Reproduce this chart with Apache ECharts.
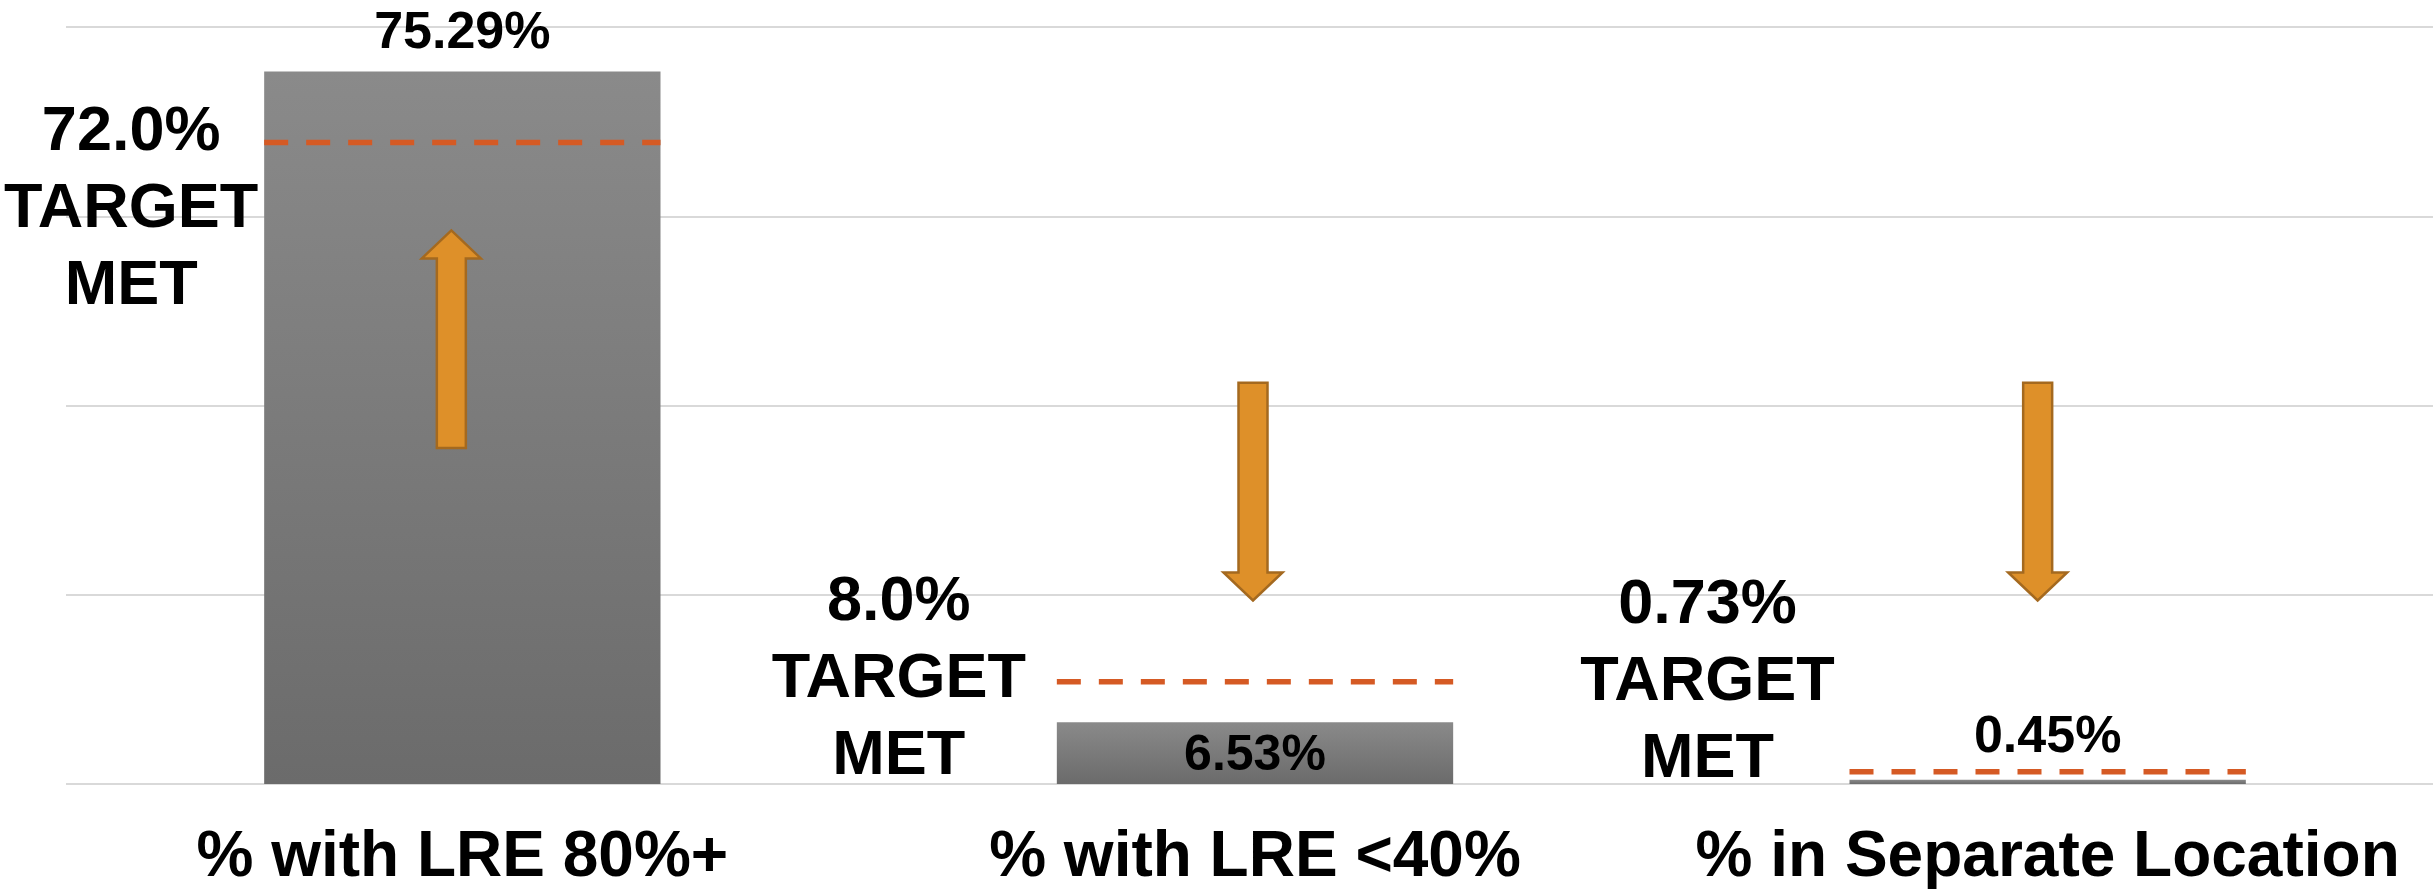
<!DOCTYPE html>
<html>
<head>
<meta charset="utf-8">
<script src="https://cdn.jsdelivr.net/npm/echarts@6/dist/echarts.min.js"></script>
<style>
  html, body { margin: 0; padding: 0; background: #ffffff; overflow: hidden; width: 2433px; height: 892px; }
  #chart { width: 2444px; height: 892px; }
</style>
</head>
<body>
<div id="chart"></div>
<script>
// ---- data ----
const categories = ['% with LRE 80%+', '% with LRE <40%', '% in Separate Location'];
const actualValues = [75.29, 6.53, 0.45];
const actualLabels = ['75.29%', '6.53%', '0.45%'];
const targetLabels = ['72.0%', '8.0%', '0.73%'];
// height (in axis %) at which each dashed target line is drawn in the picture
const targetLineLevels = [67.8, 10.8, 1.3];
// arrows: tail level and tip level (axis %)
const arrowTail = [35.5, 42.4, 42.4];
const arrowTip = [58.5, 19.4, 19.4];
const yTicks = [0, 20, 40, 60, 80];

// ---- layout / style (not data) ----
const FONT = '"Liberation Sans", Arial, sans-serif';
const targetTextOffset = [[-133, 67], [-158, -2], [-142, -89]]; // px from bar left edge / line
const arrowDx = [-11, -2, -10];
const barLabelStyles = [
  { position: 'top', distance: 12, fontSize: 52 },
  { position: 'inside', fontSize: 50, offset: [0, 3] },
  { position: 'top', distance: 16, fontSize: 52 }
];

const chart = echarts.init(document.getElementById('chart'), null, { renderer: 'canvas' });

const barGradient = new echarts.graphic.LinearGradient(0, 0, 0, 1, [
  { offset: 0, color: '#8a8a8a' },
  { offset: 1, color: '#6b6b6b' }
]);

const option = {
  animation: false,
  backgroundColor: '#ffffff',
  grid: { left: 66, right: 0, top: 27, bottom: 108, containLabel: false },
  xAxis: {
    type: 'category',
    data: categories,
    axisLine: { show: false },
    axisTick: { show: false },
    axisLabel: {
      interval: 0,
      margin: 42,
      color: '#000',
      fontSize: 64,
      fontWeight: 'bold',
      fontFamily: FONT
    }
  },
  yAxis: {
    type: 'value',
    min: yTicks[0],
    max: yTicks[yTicks.length - 1],
    interval: yTicks[1] - yTicks[0],
    axisLine: { show: false },
    axisTick: { show: false },
    axisLabel: { show: false },
    splitLine: { show: true, lineStyle: { color: '#d9d9d9', width: 2 } }
  },
  series: [
    {
      type: 'bar',
      barWidth: '50%',
      z: 2,
      itemStyle: { color: barGradient },
      data: actualValues.map((v, i) => ({
        value: v,
        label: Object.assign({
          show: true,
          color: '#000',
          fontWeight: 'bold',
          fontFamily: FONT,
          formatter: actualLabels[i]
        }, barLabelStyles[i])
      }))
    },
    {
      type: 'custom',
      name: 'targets',
      z: 5,
      clip: false,
      data: targetLineLevels.map((v, i) => [i, v]),
      renderItem: function (params, api) {
        const i = params.dataIndex;
        const p = api.coord([api.value(0), api.value(1)]);
        const bw = api.size([1, 0])[0] * 0.5;
        const left = p[0] - bw / 2;
        const off = targetTextOffset[i];
        return {
          type: 'group',
          children: [
            {
              type: 'line',
              shape: { x1: left, y1: p[1], x2: left + bw, y2: p[1] },
              style: { stroke: '#D55A24', lineWidth: 5.5, lineDash: [24, 18], lineCap: 'butt' }
            },
            {
              type: 'text',
              x: left + off[0],
              y: p[1] + off[1],
              style: {
                text: targetLabels[i] + '\nTARGET\nMET',
                fill: '#000',
                fontSize: 63,
                fontWeight: 'bold',
                fontFamily: FONT,
                align: 'center',
                verticalAlign: 'middle',
                lineHeight: 77
              }
            }
          ]
        };
      }
    },
    {
      type: 'custom',
      name: 'arrows',
      z: 6,
      clip: false,
      data: arrowTail.map((v, i) => [i, v, arrowTip[i]]),
      renderItem: function (params, api) {
        const i = params.dataIndex;
        const tail = api.coord([api.value(0), api.value(1)]);
        const tip = api.coord([api.value(0), api.value(2)]);
        const x = tail[0] + arrowDx[i];
        const dir = tip[1] < tail[1] ? -1 : 1;
        const sw = 14.5, hw = 29.5, hl = 28;
        const baseY = tip[1] - dir * hl;
        return {
          type: 'polygon',
          shape: {
            points: [
              [x - sw, tail[1]], [x - sw, baseY], [x - hw, baseY],
              [x, tip[1]],
              [x + hw, baseY], [x + sw, baseY], [x + sw, tail[1]]
            ]
          },
          style: { fill: '#DE9029', stroke: '#A4691F', lineWidth: 2.5 }
        };
      }
    }
  ]
};

chart.setOption(option);
</script>
</body>
</html>
